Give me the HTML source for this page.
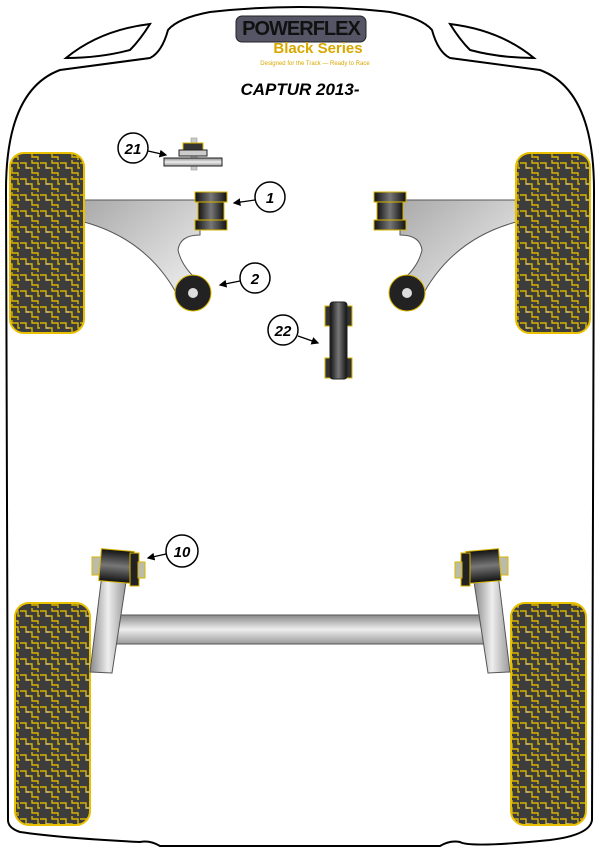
<!DOCTYPE html>
<html><head><meta charset="utf-8"><style>
html,body{margin:0;padding:0;background:#fff;width:600px;height:848px;overflow:hidden}
svg{display:block}
text{font-family:"Liberation Sans",sans-serif;font-weight:bold;font-style:italic}
</style></head><body>
<svg width="600" height="848" viewBox="0 0 600 848" xmlns="http://www.w3.org/2000/svg">
<defs>
<pattern id="tread" width="20" height="16" patternUnits="userSpaceOnUse">
<rect width="20" height="16" fill="#3d3d3d"/>
<path d="M0 3 H6 V8 H12 V13 H18 V16 M12 0 V3 H18 V8 H20" fill="none" stroke="#d8b400" stroke-width="1.4"/>
<path d="M6 8 H9" stroke="#c8c8c8" stroke-width="1.2"/>
</pattern>
<linearGradient id="gv" x1="0" y1="0" x2="0" y2="1"><stop offset="0" stop-color="#888"/><stop offset=".5" stop-color="#eee"/><stop offset="1" stop-color="#999"/></linearGradient>
<linearGradient id="gh" x1="0" y1="0" x2="1" y2="0"><stop offset="0" stop-color="#888"/><stop offset=".5" stop-color="#eee"/><stop offset="1" stop-color="#999"/></linearGradient>
<linearGradient id="arm" x1="0" y1="0" x2="1" y2="1"><stop offset="0" stop-color="#aaa"/><stop offset="1" stop-color="#f2f2f2"/></linearGradient>
<linearGradient id="bk" x1="0" y1="0" x2="1" y2="0"><stop offset="0" stop-color="#111"/><stop offset=".5" stop-color="#777"/><stop offset="1" stop-color="#111"/></linearGradient>
<linearGradient id="bkv" x1="0" y1="0" x2="0" y2="1"><stop offset="0" stop-color="#111"/><stop offset=".5" stop-color="#777"/><stop offset="1" stop-color="#111"/></linearGradient>
<marker id="ah" markerWidth="6" markerHeight="6" refX="5" refY="3" orient="auto"><path d="M0 0 L6 3 L0 6 Z" fill="#000"/></marker>
</defs>
<path d="M8 820 L6 190 Q6 90 60 70 L150 58 Q162 52 168 30 Q178 18 210 12 Q300 2 390 12 Q422 18 432 30 Q438 52 450 58 L540 70 Q594 90 594 190 L592 820 Q590 835 550 840 Q470 848 460 842 Q450 840 440 846 L160 846 Q150 840 140 842 Q60 838 20 832 Q8 828 8 820 Z" fill="#fff" stroke="#000" stroke-width="2"/>
<path d="M66 58 Q100 30 150 24 Q140 40 130 50 Q100 58 66 58 Z" fill="#fff" stroke="#000" stroke-width="2"/>
<path d="M534 58 Q500 30 450 24 Q460 40 470 50 Q500 58 534 58 Z" fill="#fff" stroke="#000" stroke-width="2"/>
<rect x="236" y="16" width="130" height="26" rx="6" fill="#556" stroke="#222"/>
<text x="301" y="35" font-size="20" text-anchor="middle" fill="#111" style="font-style:normal;letter-spacing:-1px">POWERFLEX</text>
<text x="318" y="53" font-size="15" text-anchor="middle" fill="#d8a800" style="font-style:normal">Black Series</text>
<text x="315" y="65" font-size="6" text-anchor="middle" fill="#d8a800" style="font-style:normal;font-weight:normal">Designed for the Track — Ready to Race</text>
<text x="300" y="95" font-size="17" text-anchor="middle" fill="#000">CAPTUR 2013-</text>
<path d="M84 200 L200 200 L200 235 Q180 235 178 250 Q182 268 200 282 L180 300 Q150 240 84 222 Z" fill="url(#arm)" stroke="#555" stroke-width="1"/>
<path d="M516 200 L400 200 L400 235 Q420 235 422 250 Q418 268 400 282 L420 300 Q450 240 516 222 Z" fill="url(#arm)" stroke="#555" stroke-width="1"/>
<rect x="10" y="153" width="74" height="180" rx="14" fill="url(#tread)" stroke="#e8c000" stroke-width="2"/>
<rect x="516" y="153" width="74" height="180" rx="14" fill="url(#tread)" stroke="#e8c000" stroke-width="2"/>
<rect x="15" y="603" width="75" height="222" rx="14" fill="url(#tread)" stroke="#e8c000" stroke-width="2"/>
<rect x="511" y="603" width="75" height="222" rx="14" fill="url(#tread)" stroke="#e8c000" stroke-width="2"/>
<g stroke="#d8b400" stroke-width="1">
<rect x="195" y="192" width="32" height="10" fill="url(#bk)"/><rect x="198" y="202" width="26" height="18" fill="url(#bk)"/><rect x="195" y="220" width="32" height="10" fill="url(#bk)"/>
<rect x="374" y="192" width="32" height="10" fill="url(#bk)"/><rect x="377" y="202" width="26" height="18" fill="url(#bk)"/><rect x="374" y="220" width="32" height="10" fill="url(#bk)"/>
<circle cx="193" cy="293" r="18" fill="#222"/><circle cx="407" cy="293" r="18" fill="#222"/>
</g>
<circle cx="193" cy="293" r="5" fill="#ddd"/><circle cx="407" cy="293" r="5" fill="#ddd"/>
<rect x="191" y="138" width="6" height="32" fill="#ccc" stroke="#888" stroke-width=".5"/>
<rect x="183" y="143" width="20" height="7" fill="#333" stroke="#d8b400"/>
<rect x="179" y="150" width="28" height="6" fill="#ccc" stroke="#222"/>
<rect x="164" y="158" width="58" height="8" fill="url(#gv)" stroke="#222"/>
<g stroke="#d8b400"><rect x="325" y="306" width="6" height="20" fill="#333"/><rect x="346" y="306" width="6" height="20" fill="#333"/><rect x="325" y="358" width="6" height="20" fill="#333"/><rect x="346" y="358" width="6" height="20" fill="#333"/></g>
<rect x="330" y="302" width="17" height="77" rx="3" fill="url(#bk)" stroke="#222"/>
<rect x="112" y="615" width="376" height="29" fill="url(#gv)" stroke="#555"/>
<path d="M102 574 L126 582 L112 673 L90 672 Z" fill="url(#gh)" stroke="#555"/>
<path d="M498 574 L474 582 L488 673 L510 672 Z" fill="url(#gh)" stroke="#555"/>
<g stroke="#d8b400">
<rect x="92" y="557" width="9" height="18" fill="#bba"/><rect x="100" y="550" width="33" height="32" fill="url(#bkv)" transform="rotate(5 116 566)"/><rect x="130" y="553" width="9" height="33" fill="#222"/><rect x="138" y="562" width="7" height="16" fill="#bba"/>
<rect x="499" y="557" width="9" height="18" fill="#bba"/><rect x="467" y="550" width="33" height="32" fill="url(#bkv)" transform="rotate(-5 484 566)"/><rect x="461" y="553" width="9" height="33" fill="#222"/><rect x="455" y="562" width="7" height="16" fill="#bba"/>
</g>
<g fill="#fff" stroke="#000" stroke-width="1.5">
<circle cx="133" cy="148" r="15"/><circle cx="270" cy="197" r="15"/><circle cx="255" cy="278" r="15"/><circle cx="283" cy="330" r="15"/><circle cx="182" cy="551" r="16"/>
</g>
<g stroke="#000" stroke-width="1.3" marker-end="url(#ah)">
<line x1="148" y1="151" x2="166" y2="155"/><line x1="255" y1="200" x2="234" y2="203"/><line x1="240" y1="281" x2="220" y2="285"/><line x1="298" y1="336" x2="318" y2="343"/><line x1="166" y1="554" x2="148" y2="558"/>
</g>
<g font-size="15" text-anchor="middle" fill="#000">
<text x="133" y="154">21</text><text x="270" y="203">1</text><text x="255" y="284">2</text><text x="283" y="336">22</text><text x="182" y="557">10</text>
</g>
</svg>
</body></html>
